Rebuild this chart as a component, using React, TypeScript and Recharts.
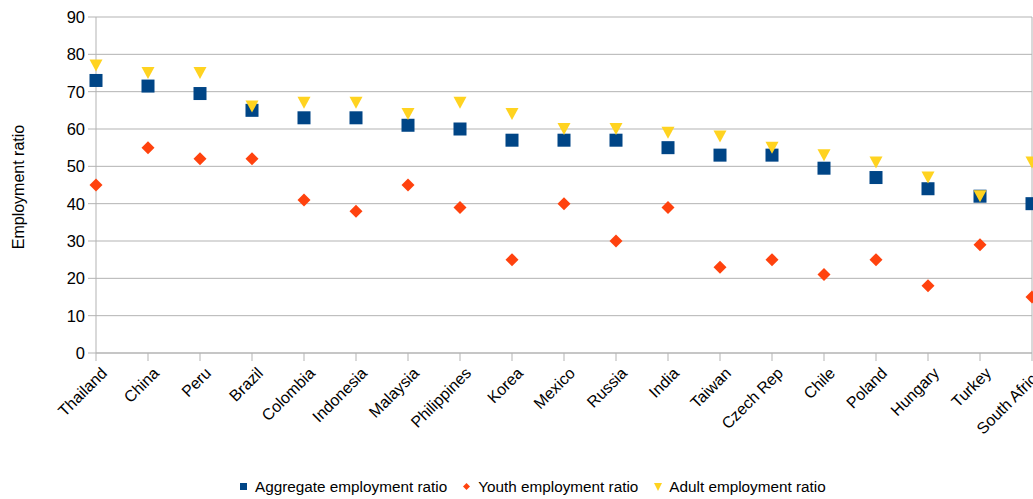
import { LineChart, Line, XAxis, YAxis, CartesianGrid, Legend, ReferenceLine } from "recharts";

const countries = [
  "Thailand", "China", "Peru", "Brazil", "Colombia", "Indonesia", "Malaysia", "Philippines",
  "Korea", "Mexico", "Russia", "India", "Taiwan", "Czech Rep", "Chile", "Poland",
  "Hungary", "Turkey", "South Africa",
];
const aggregate = [73, 71.5, 69.5, 65, 63, 63, 61, 60, 57, 57, 57, 55, 53, 53, 49.5, 47, 44, 42, 40];
const youth = [45, 55, 52, 52, 41, 38, 45, 39, 25, 40, 30, 39, 23, 25, 21, 25, 18, 29, 15];
const adult = [77, 75, 75, 66, 67, 67, 64, 67, 64, 60, 60, 59, 58, 55, 53, 51, 47, 42, 51];
const yTicks = [0, 10, 20, 30, 40, 50, 60, 70, 80, 90];

const BLUE = "#004586";
const ORANGE = "#ff420e";
const YELLOW = "#ffd320";
const GRID = "#b3b3b3";
const FONT = "'Liberation Sans', Arial, sans-serif";

const data = countries.map((country, i) => ({
  country,
  aggregate: aggregate[i],
  youth: youth[i],
  adult: adult[i],
}));

// marker shapes, LibreOffice style
const Square = (p: any) => (
  <rect key={p.index} x={p.cx - 6.5} y={p.cy - 6.5} width={13} height={13} fill={BLUE} />
);
const Diamond = (p: any) => (
  <polygon
    key={p.index}
    points={`${p.cx},${p.cy - 6.5} ${p.cx + 6.5},${p.cy} ${p.cx},${p.cy + 6.5} ${p.cx - 6.5},${p.cy}`}
    fill={ORANGE}
  />
);
const TriangleDown = (p: any) => (
  <polygon
    key={p.index}
    points={`${p.cx - 6.5},${p.cy - 6} ${p.cx + 6.5},${p.cy - 6} ${p.cx},${p.cy + 6}`}
    fill={YELLOW}
  />
);

const CountryTick = ({ x, y, payload }: any) => (
  <text
    x={x + 4}
    y={y + 1}
    transform={`rotate(-45 ${x + 4} ${y + 1})`}
    textAnchor="end"
    dy="0.72em"
    fontSize={16}
    fontFamily={FONT}
    fill="#000"
  >
    {payload.value}
  </text>
);

const legendItems = [
  { label: "Aggregate employment ratio", icon: <rect x={0} y={0} width={7} height={7} fill={BLUE} /> },
  { label: "Youth employment ratio", icon: <polygon points="3.5,0 7,3.5 3.5,7 0,3.5" fill={ORANGE} /> },
  { label: "Adult employment ratio", icon: <polygon points="0,0 8,0 4,8" fill={YELLOW} /> },
];

const LegendContent = () => (
  <div
    style={{
      display: "flex",
      alignItems: "center",
      paddingLeft: 240,
      height: 24,
      fontFamily: FONT,
      fontSize: 15.3,
      color: "#000",
    }}
  >
    {legendItems.map((item) => (
      <span key={item.label} style={{ display: "flex", alignItems: "center", marginRight: 16 }}>
        <svg width={8} height={8} style={{ marginRight: 7 }}>
          {item.icon}
        </svg>
        {item.label}
      </span>
    ))}
  </div>
);

export default function App() {
  return (
    <div style={{ position: "absolute", left: 0, top: 0 }}>
      <LineChart
        width={1033}
        height={499}
        data={data}
        margin={{ top: 17, right: 1, bottom: 0, left: 0 }}
      >
        <CartesianGrid vertical={false} stroke={GRID} />
        <XAxis
          dataKey="country"
          scale="point"
          interval={0}
          height={122}
          tickSize={8}
          tickMargin={4}
          tick={<CountryTick />}
          stroke={GRID}
        />
        <YAxis
          width={96}
          domain={[0, 90]}
          ticks={yTicks}
          tickSize={8}
          tickMargin={3}
          stroke={GRID}
          tick={{ fill: "#000", fontSize: 16.5, fontFamily: FONT }}
          label={{
            content: () => (
              <text
                x={18}
                y={187}
                transform="rotate(-90 18 187)"
                textAnchor="middle"
                dominantBaseline="central"
                fontSize={16}
                fontFamily={FONT}
                fill="#000"
              >
                Employment ratio
              </text>
            ),
          }}
        />
        <ReferenceLine x="South Africa" stroke={GRID} />
        <Legend verticalAlign="bottom" height={24} content={<LegendContent />} />
        <Line dataKey="aggregate" stroke="none" dot={Square} activeDot={false} isAnimationActive={false} />
        <Line dataKey="youth" stroke="none" dot={Diamond} activeDot={false} isAnimationActive={false} />
        <Line dataKey="adult" stroke="none" dot={TriangleDown} activeDot={false} isAnimationActive={false} />
      </LineChart>
    </div>
  );
}
